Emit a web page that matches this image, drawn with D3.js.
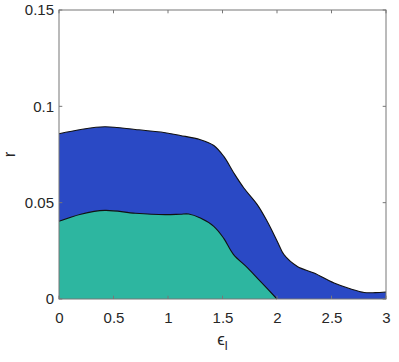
<!DOCTYPE html>
<html><head><meta charset="utf-8">
<script src="https://cdn.jsdelivr.net/npm/d3@7"></script>
<style>body{margin:0;background:#fff}svg{display:block}</style>
</head><body>
<svg id="c" width="399" height="362"></svg>
<script>
const xTicks = [0, 0.5, 1, 1.5, 2, 2.5, 3];
const yTicks = [0, 0.05, 0.1, 0.15];
const upperX = [0, 0.2, 0.42, 0.7, 0.975, 1.113, 1.297, 1.42, 1.512, 1.604, 1.696, 1.819, 1.911, 2.003, 2.064, 2.187, 2.34, 2.524, 2.678, 2.80, 2.9, 3];
const upperR = [0.0858, 0.0880, 0.0894, 0.0880, 0.0863, 0.0849, 0.0827, 0.0797, 0.0740, 0.0654, 0.0576, 0.0490, 0.0402, 0.0299, 0.0230, 0.0169, 0.0135, 0.0083, 0.0052, 0.0034, 0.0033, 0.0036];
const lowerX = [0, 0.2, 0.42, 0.7, 0.975, 1.113, 1.19, 1.297, 1.42, 1.51, 1.60, 1.73, 1.85, 2.0];
const lowerR = [0.0403, 0.0440, 0.0460, 0.0445, 0.0438, 0.0440, 0.0441, 0.0420, 0.0377, 0.0316, 0.0232, 0.0162, 0.0090, 0];

const L = 59, R = 386, T = 10, B = 299;
const svg = d3.select('#c');
const x = d3.scaleLinear().domain([0, 3]).range([L, R]);
const y = d3.scaleLinear().domain([0, 0.15]).range([B, T]);
const up = upperX.map((v, i) => [v, upperR[i]]);
const lo = lowerX.map((v, i) => [v, lowerR[i]]);
const crv = d3.curveCatmullRom.alpha(0.5);
const area = d3.area().x(d => x(d[0])).y0(y(0)).y1(d => y(d[1])).curve(crv);
const line = d3.line().x(d => x(d[0])).y(d => y(d[1])).curve(crv);

svg.append('path').attr('d', area(up)).attr('fill', '#2a49c5');
svg.append('path').attr('d', line(up)).attr('fill', 'none').attr('stroke', '#111').attr('stroke-width', 1.1);
svg.append('path').attr('d', area(lo)).attr('fill', '#2db6a0');
svg.append('path').attr('d', line(lo)).attr('fill', 'none').attr('stroke', '#111').attr('stroke-width', 1.1);

const gc = '#262626';
svg.append('rect').attr('x', L).attr('y', T).attr('width', R - L).attr('height', B - T)
  .attr('fill', 'none').attr('stroke', '#777').attr('stroke-width', 1);
const tl = 3.3;
xTicks.forEach(t => {
  svg.append('line').attr('x1', x(t)).attr('x2', x(t)).attr('y1', B).attr('y2', B - tl).attr('stroke', '#777');
  svg.append('line').attr('x1', x(t)).attr('x2', x(t)).attr('y1', T).attr('y2', T + tl).attr('stroke', '#777');
});
yTicks.forEach(t => {
  svg.append('line').attr('x1', L).attr('x2', L + tl).attr('y1', y(t)).attr('y2', y(t)).attr('stroke', '#777');
  svg.append('line').attr('x1', R).attr('x2', R - tl).attr('y1', y(t)).attr('y2', y(t)).attr('stroke', '#777');
});
const font = 'Liberation Sans, Arial, sans-serif';
const xb = svg.append('g').attr('transform', `translate(0,${B})`)
  .call(d3.axisBottom(x).tickValues(xTicks).tickFormat(d3.format('')).tickSize(0).tickPadding(13));
xb.select('.domain').remove();
xb.selectAll('text').attr('font-family', font).attr('font-size', 15).attr('fill', gc);
const yb = svg.append('g').attr('transform', `translate(${L},0)`)
  .call(d3.axisLeft(y).tickValues(yTicks).tickFormat(d3.format('')).tickSize(0).tickPadding(5));
yb.select('.domain').remove();
yb.selectAll('text').attr('font-family', font).attr('font-size', 15).attr('fill', gc);

const xl = svg.append('text').attr('x', (L + R) / 2).attr('y', 345).attr('text-anchor', 'middle')
  .attr('font-family', font).attr('font-size', 17).attr('fill', gc);
xl.append('tspan').text('ϵ');
xl.append('tspan').attr('dy', 5).attr('font-size', 13).text('l');
svg.append('text').attr('transform', `translate(15,${(T + B) / 2}) rotate(-90)`).attr('text-anchor', 'middle')
  .attr('font-family', font).attr('font-size', 17).attr('fill', gc).text('r');
</script>
</body></html>
